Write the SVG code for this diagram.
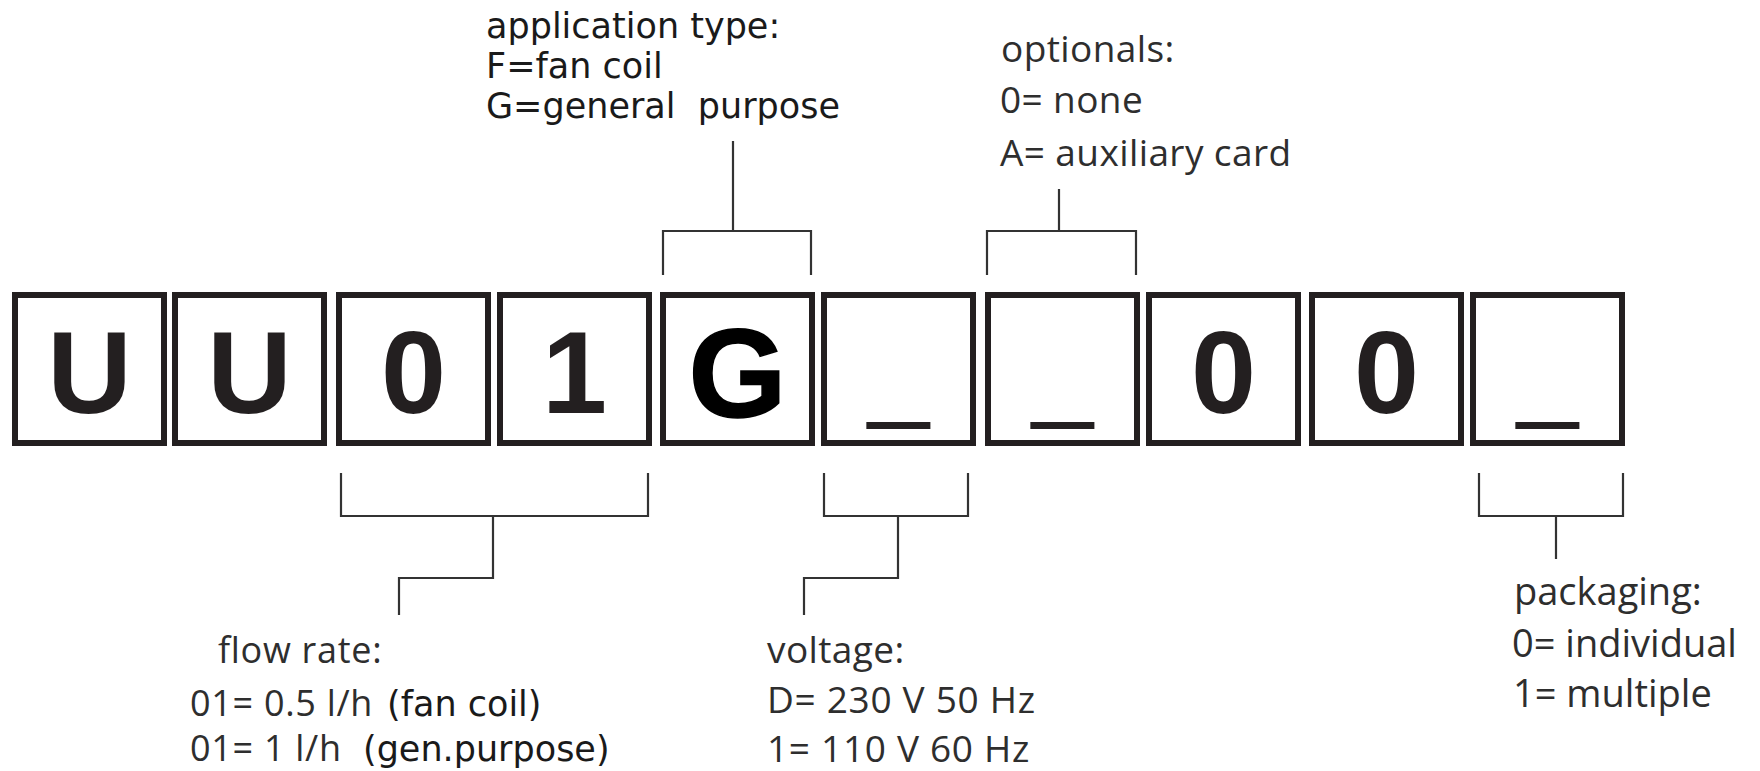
<svg xmlns="http://www.w3.org/2000/svg" width="1760" height="771" viewBox="0 0 1760 771">
<style>
.box rect{fill:#fff;stroke:#231f20;stroke-width:6}
.ch{font-family:"Liberation Sans",Arial,sans-serif;font-weight:bold;font-size:117px;fill:#231f20;text-anchor:middle}
.g{font-size:126px;fill:#000;stroke:#000;stroke-width:1.5}
.us{font-family:"Liberation Sans",Arial,sans-serif;font-size:110px;fill:#231f20;text-anchor:middle}
.conn path{fill:none;stroke:#333;stroke-width:2.2}
.v{font-family:"DejaVu Sans",Verdana,sans-serif;font-size:35px;fill:#1a1a1a}
.m{font-family:"Open Sans","Noto Sans",sans-serif;font-size:37px;fill:#2e2e2e;letter-spacing:0.4px}
.f{font-size:36px;letter-spacing:0.7px}
.p{font-size:38px;letter-spacing:0}
</style>
<rect width="1760" height="771" fill="#fff"/>
<g id="box1" class="box"><rect x="15" y="295" width="149" height="148"/><text class="ch" x="89.5" y="413">U</text></g>
<g id="box2" class="box"><rect x="175" y="295" width="149" height="148"/><text class="ch" x="249.5" y="413">U</text></g>
<g id="box3" class="box"><rect x="339" y="295" width="149" height="148"/><text class="ch" x="413.5" y="413">0</text></g>
<g id="box4" class="box"><rect x="500" y="295" width="149" height="148"/><text class="ch" x="574.5" y="413">1</text></g>
<g id="box5" class="box"><rect x="663" y="295" width="149" height="148"/><text class="ch g" x="737.5" y="417">G</text></g>
<g id="box6" class="box"><rect x="824" y="295" width="149" height="148"/><text class="us" x="898.5" y="407">_</text></g>
<g id="box7" class="box"><rect x="988" y="295" width="149" height="148"/><text class="us" x="1062.5" y="407">_</text></g>
<g id="box8" class="box"><rect x="1149" y="295" width="149" height="148"/><text class="ch" x="1223.5" y="413">0</text></g>
<g id="box9" class="box"><rect x="1312" y="295" width="149" height="148"/><text class="ch" x="1386.5" y="413">0</text></g>
<g id="box10" class="box"><rect x="1473" y="295" width="149" height="148"/><text class="us" x="1547.5" y="407">_</text></g>
<g id="connectors" class="conn">
<path d="M733 141V231M663 275V231H811V275"/>
<path d="M1059 189V231M987 275V231H1136V275"/>
<path d="M341 473V516H648V473M493 516V578H399V615"/>
<path d="M824 473V516H968V473M898 516V578H804V615"/>
<path d="M1479 473V516H1623V473M1556 516V559"/>
</g>
<g id="label-application">
<text class="v" x="486" y="38">application type:</text>
<text class="v" x="486" y="78">F=fan coil</text>
<text class="v" x="486" y="118" xml:space="preserve">G=general  purpose</text>
</g>
<g id="label-optionals">
<text class="m" x="1001" y="62">optionals:</text>
<text class="m" x="1000" y="113">0= none</text>
<text class="m" x="1000" y="166">A= auxiliary card</text>
</g>
<g id="label-flow">
<text class="m f" x="218" y="663">flow rate:</text>
<text x="190" y="716"><tspan class="m f">01= 0.5 l/h</tspan><tspan class="v" x="387">(fan coil)</tspan></text>
<text x="190" y="761"><tspan class="m f">01= 1 l/h</tspan><tspan class="v" x="363">(gen.purpose)</tspan></text>
</g>
<g id="label-voltage">
<text class="m" x="767" y="663">voltage:</text>
<text class="m" x="767" y="713" style="letter-spacing:0.7px">D= 230 V 50 Hz</text>
<text class="m" x="767" y="762" style="letter-spacing:0.7px">1= 110 V 60 Hz</text>
</g>
<g id="label-packaging">
<text class="m p" x="1514" y="605">packaging:</text>
<text class="m p" x="1512" y="657">0= individual</text>
<text class="m p" x="1513" y="707">1= multiple</text>
</g>
</svg>
